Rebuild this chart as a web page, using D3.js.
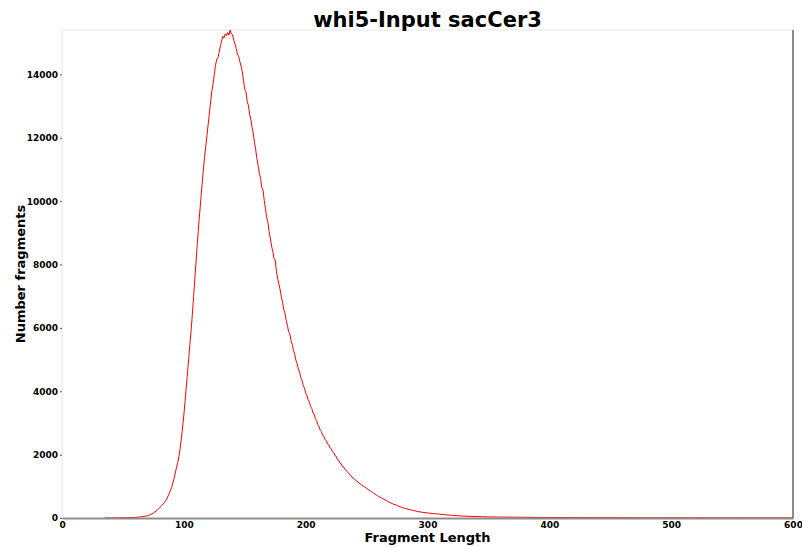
<!DOCTYPE html>
<html>
<head>
<meta charset="utf-8">
<script src="https://cdn.jsdelivr.net/npm/d3@7"></script>
<style>
  body { margin: 0; background: #fff; }
  svg { font-family: "DejaVu Sans", sans-serif; }
</style>
</head>
<body>
<svg id="drawing_region"></svg>
<script>
// fragment lengths (bp) and number of fragments
var lengths = [
  35, 40, 45, 50, 55, 60, 65, 70, 72, 75, 78, 80, 82, 84, 86, 88, 90, 92, 94, 95,
  96, 97, 98, 99,
  100, 101, 102, 103, 104, 105, 106, 107, 108, 109,
  110, 111, 112, 113, 114, 115, 116, 117, 118, 119,
  120, 121, 122, 123, 124, 125, 126, 127, 128, 129,
  130, 131, 132, 133, 134, 135, 136, 137, 138, 139,
  140, 141, 142, 143, 144, 145, 146, 147, 148, 149,
  150, 151, 152, 153, 154, 155, 156, 157, 158, 159,
  160, 161, 162, 163, 164, 165, 166, 167, 168, 169,
  170, 171, 172, 173, 174, 175, 176, 177, 178, 179,
  180, 181, 182, 183, 184, 185, 186, 187, 188, 189,
  190, 191, 192, 193, 194, 195, 196, 197, 198, 199,
  200, 201, 202, 203, 204, 205, 206, 207, 208, 209,
  210, 211, 212, 213, 214, 215, 216, 217, 218, 219,
  220, 221, 222, 223, 224, 225, 226, 227, 228, 229,
  230, 231, 232, 233, 234, 235, 236, 237, 238, 239,
  240, 241, 242, 243, 244, 245, 246, 247, 248, 249,
  250, 251, 252, 253, 254, 255, 256, 257, 258, 259,
  260, 262, 264, 266, 268, 270, 272, 274, 276, 278,
  280, 282, 284, 286, 288, 290, 292, 294, 296, 298,
  300, 305, 310, 315, 320, 325, 330, 335, 340, 345,
  350, 360, 370, 380, 390, 400, 420, 440, 460, 480,
  500, 520, 540, 560, 580, 600
];
var counts = [
  2, 3, 5, 8, 12, 20, 38, 70, 95, 160, 240, 320, 400, 480, 600, 780, 960, 1250, 1600, 1750,
  1950, 2200, 2520, 2870,
  3250, 3680, 4130, 4580, 5030, 5480, 5930, 6430, 6980, 7530,
  8080, 8630, 9150, 9620, 10080, 10530, 10980, 11380, 11730, 12080,
  12430, 12780, 13130, 13480, 13700, 14000, 14280, 14480, 14520, 14700,
  14900, 15050, 15200, 15150, 15280, 15220, 15320, 15240, 15400, 15280,
  15250, 15080, 14950, 14820, 14640, 14560, 14400, 14260, 14080, 13800,
  13520, 13450, 13150, 13020, 12740, 12580, 12330, 12120, 11850, 11620,
  11330, 11120, 10880, 10720, 10430, 10350, 10020, 9760, 9480, 9330,
  9040, 8830, 8580, 8420, 8180, 8150, 7780, 7570, 7380, 7220,
  6980, 6820, 6580, 6470, 6230, 6080, 5880, 5810, 5600, 5470,
  5280, 5170, 4980, 4870, 4700, 4620, 4430, 4340, 4180, 4100,
  3950, 3870, 3720, 3660, 3520, 3460, 3320, 3270, 3130, 3080,
  2940, 2890, 2760, 2720, 2600, 2580, 2470, 2440, 2330, 2310,
  2210, 2190, 2090, 2070, 1970, 1950, 1850, 1830, 1740, 1720,
  1630, 1620, 1550, 1520, 1460, 1430, 1370, 1350, 1290, 1270,
  1220, 1200, 1150, 1140, 1090, 1080, 1030, 1020, 980, 970,
  930, 920, 870, 860, 820, 810, 770, 760, 720, 710,
  670, 640, 590, 560, 505, 475, 435, 415, 375, 355,
  315, 305, 275, 265, 235, 225, 200, 195, 175, 172,
  160, 140, 120, 100, 85, 70, 60, 52, 45, 40,
  35, 30, 26, 22, 19, 17, 14, 12, 10, 9,
  8, 7, 6, 5, 5, 4
];
var xTicks = [0, 100, 200, 300, 400, 500, 600];
var yTicks = [0, 2000, 4000, 6000, 8000, 10000, 12000, 14000];
var title = "whi5-Input sacCer3";
var xLabel = "Fragment Length";
var yLabel = "Number fragments";

var config = {
  parent: '#drawing_region',
  width: 802,
  height: 547,
  margin: {top: 30, right: 9, bottom: 29, left: 62}
};

var data = lengths.map((d, i) => ({len: d, value: counts[i]}));

const svg = d3.select(config.parent)
  .attr('width', config.width)
  .attr('height', config.height);

const inner_width = config.width - config.margin.left - config.margin.right;
const inner_height = config.height - config.margin.top - config.margin.bottom;

const chart = svg.append('g')
  .attr('transform', `translate(${config.margin.left}, ${config.margin.top})`);

const xscale = d3.scaleLinear()
  .domain([0, 600])
  .range([0, inner_width]);

const yscale = d3.scaleLinear()
  .domain([0, d3.max(data, d => d.value)])
  .range([inner_height, 0]);

// faint left / top frame
chart.append('line')
  .attr('x1', 0).attr('x2', 0).attr('y1', 0).attr('y2', inner_height)
  .attr('stroke', '#eeeeee').attr('stroke-width', 1.5);
chart.append('line')
  .attr('x1', 0).attr('x2', inner_width).attr('y1', 0).attr('y2', 0)
  .attr('stroke', '#efefef').attr('stroke-width', 1.5);
// right frame
chart.append('line')
  .attr('x1', inner_width).attr('x2', inner_width).attr('y1', 0).attr('y2', inner_height)
  .attr('stroke', '#8c8c8c').attr('stroke-width', 2);

// line
const line = d3.line()
  .x(d => xscale(d.len))
  .y(d => yscale(d.value));

chart.append('path')
  .datum(data)
  .attr('fill', 'none')
  .attr('stroke', '#ff0000')
  .attr('stroke-width', 1)
  .attr('d', line);

// axes
const xaxis = d3.axisBottom(xscale)
  .tickValues(xTicks)
  .tickSize(0)
  .tickPadding(4)
  .tickFormat(d3.format('d'));

const yaxis = d3.axisLeft(yscale)
  .tickValues(yTicks)
  .tickSize(2)
  .tickPadding(2)
  .tickFormat(d3.format('d'));

const xaxis_group = chart.append('g')
  .attr('transform', `translate(0, ${inner_height})`)
  .call(xaxis);
xaxis_group.select('.domain').attr('stroke', '#8c8c8c').attr('stroke-width', 2);

const yaxis_group = chart.append('g')
  .call(yaxis);
yaxis_group.select('.domain').remove();
yaxis_group.selectAll('.tick line').attr('stroke', '#555');

svg.selectAll('.tick text')
  .attr('font-family', '"DejaVu Sans", sans-serif')
  .attr('font-size', 9)
  .attr('font-weight', 'bold')
  .attr('fill', '#000');

// labels
svg.append('text')
  .attr('x', config.margin.left + inner_width / 2)
  .attr('y', 27)
  .attr('text-anchor', 'middle')
  .attr('font-size', 21)
  .attr('font-weight', 'bold')
  .text(title);

svg.append('text')
  .attr('x', config.margin.left + inner_width / 2)
  .attr('y', 542)
  .attr('text-anchor', 'middle')
  .attr('font-size', 13)
  .attr('font-weight', 'bold')
  .text(xLabel);

svg.append('text')
  .attr('transform', `translate(25, ${config.margin.top + inner_height / 2}) rotate(-90)`)
  .attr('text-anchor', 'middle')
  .attr('font-size', 13)
  .attr('font-weight', 'bold')
  .text(yLabel);
</script>
</body>
</html>
